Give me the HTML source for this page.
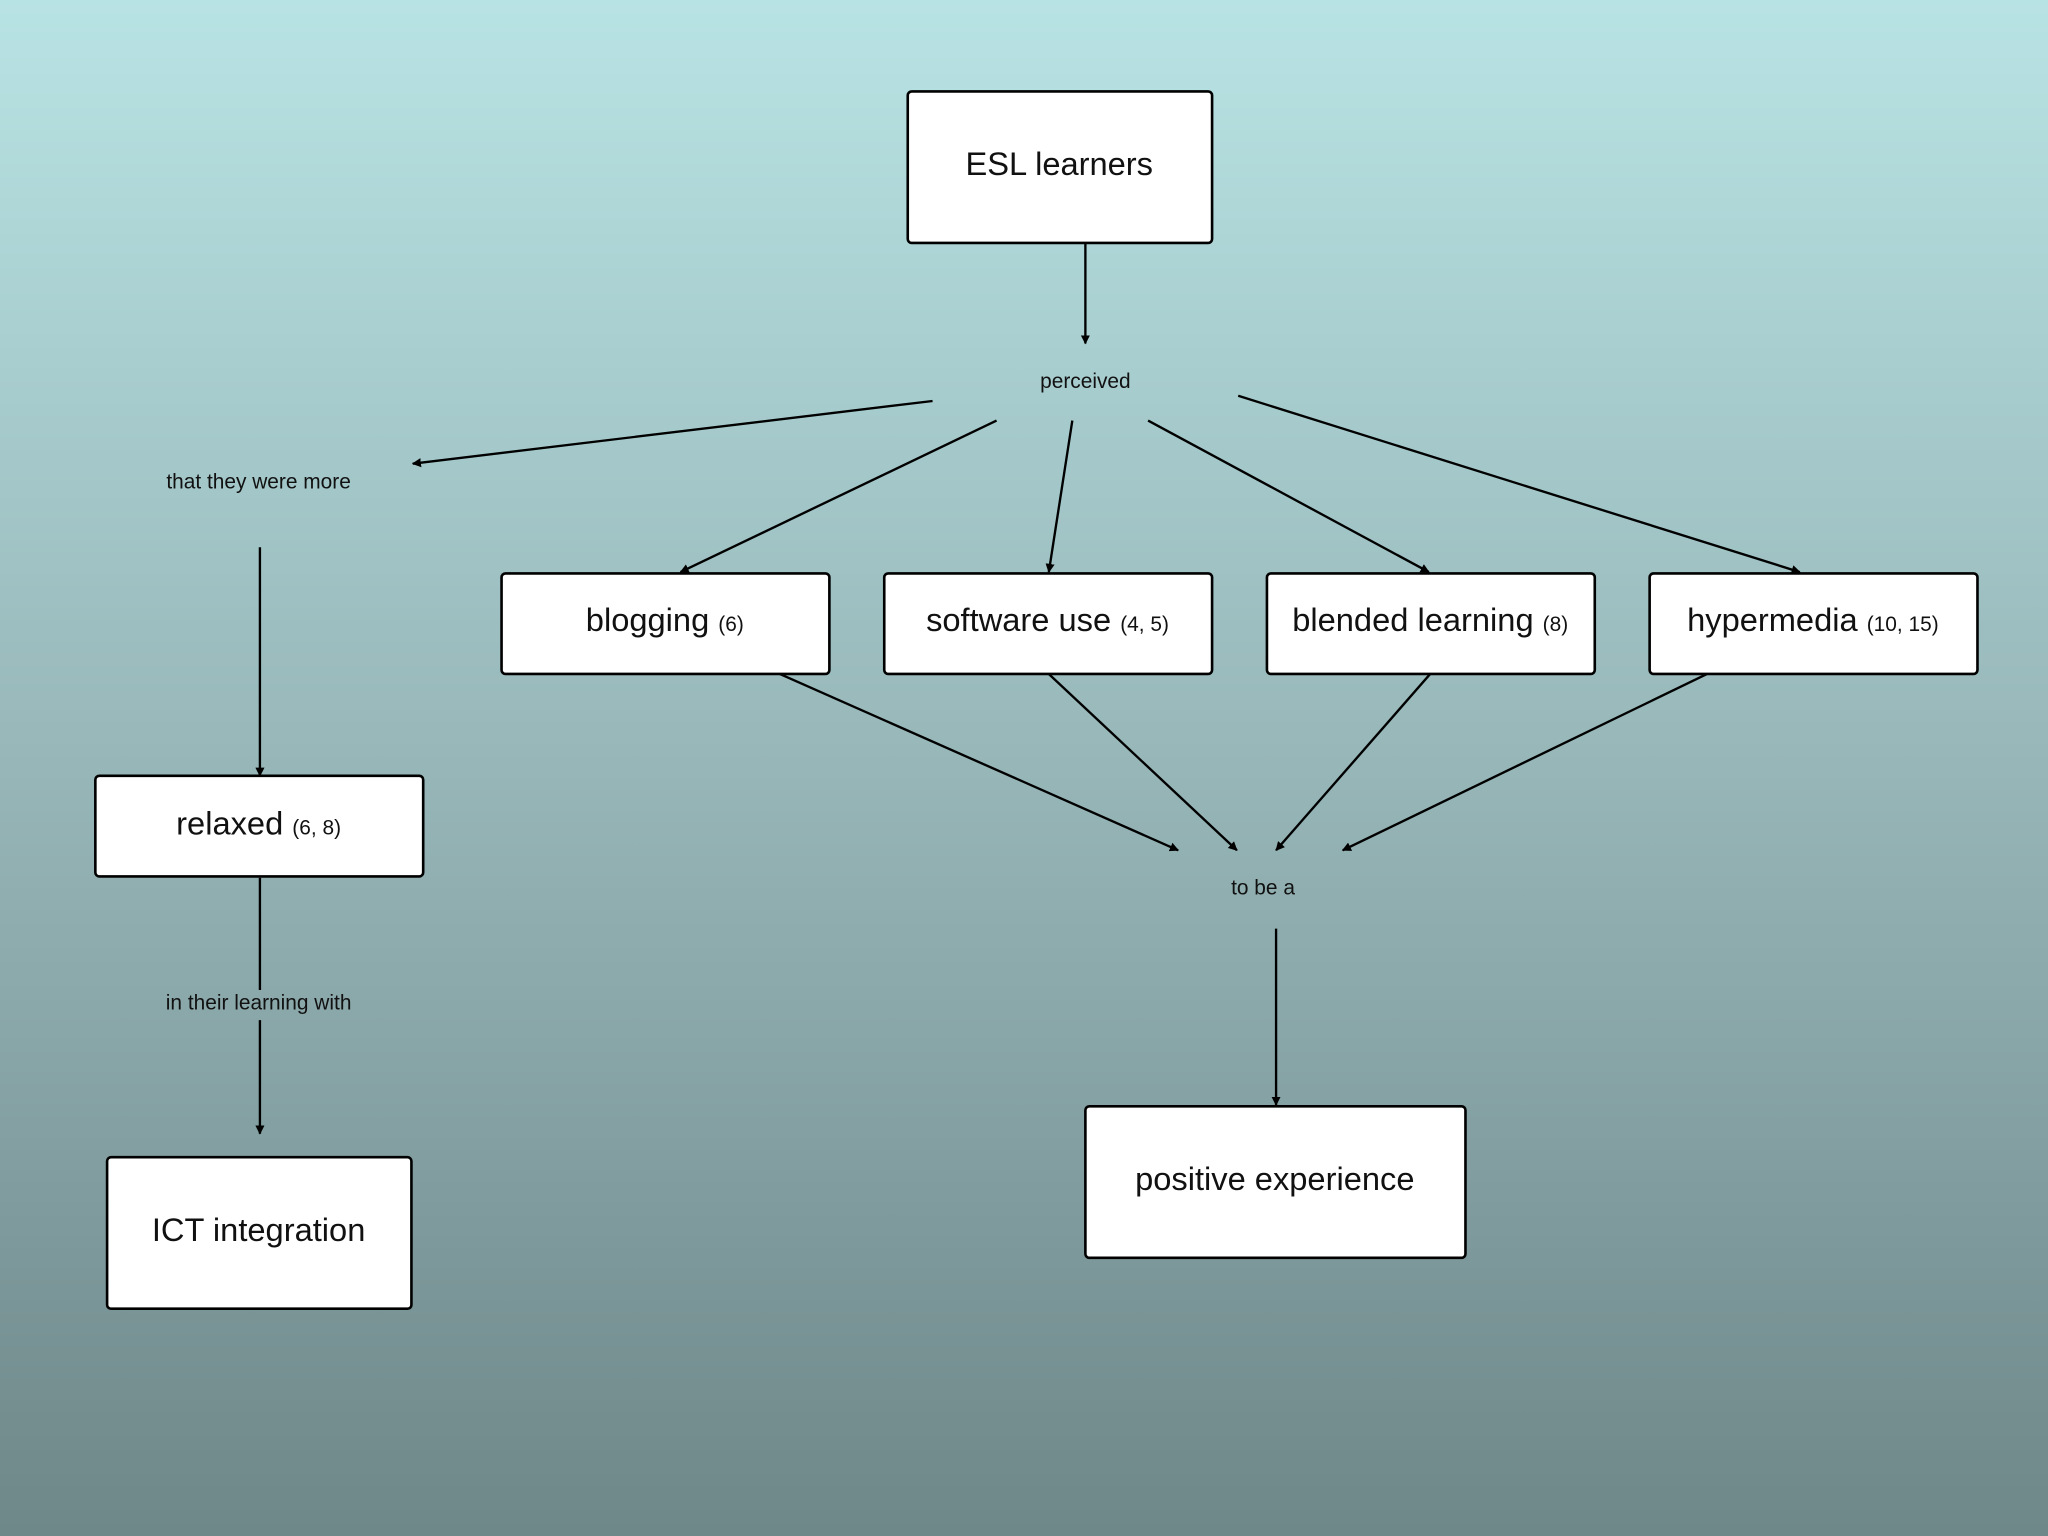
<!DOCTYPE html>
<html><head><meta charset="utf-8"><style>
html,body{margin:0;padding:0;width:2048px;height:1536px;overflow:hidden}
svg{display:block}
text{font-family:"Liberation Sans",sans-serif;fill:#111}
</style></head><body>
<svg width="2048" height="1536" viewBox="0 0 1568 1176" xmlns="http://www.w3.org/2000/svg">
<defs>
<linearGradient id="bg" x1="0" y1="0" x2="0" y2="1">
<stop offset="0" stop-color="#b8e3e4"/>
<stop offset="0.5" stop-color="#97b6b8"/>
<stop offset="1" stop-color="#6e8789"/>
</linearGradient>
<marker id="a" viewBox="0 0 10 10" refX="9" refY="5" markerWidth="7" markerHeight="7" markerUnits="userSpaceOnUse" orient="auto">
<path d="M0,0 L10,5 L0,10 z" fill="#000"/>
</marker>
<style>.l{stroke:#000;stroke-width:1.8;fill:none;marker-end:url(#a)}
.l2{stroke:#000;stroke-width:1.8;fill:none}
.b{fill:#fff;stroke:#000;stroke-width:2}</style>
</defs>
<rect width="1568" height="1176" fill="url(#bg)"/>
<g>
<line class="l" x1="831" y1="186" x2="831" y2="263"/>
<line class="l" x1="714" y1="307" x2="316" y2="355"/>
<line class="l" x1="763" y1="322" x2="521" y2="438"/>
<line class="l" x1="821" y1="322" x2="803" y2="438"/>
<line class="l" x1="879" y1="322" x2="1094" y2="438"/>
<line class="l" x1="948" y1="303" x2="1378" y2="438"/>
<line class="l" x1="199" y1="419" x2="199" y2="594"/>
<line class="l2" x1="199" y1="672" x2="199" y2="758"/>
<line class="l" x1="199" y1="781" x2="199" y2="868"/>
<line class="l" x1="597" y1="516" x2="902" y2="651"/>
<line class="l" x1="803" y1="516" x2="947" y2="651"/>
<line class="l" x1="1095" y1="516" x2="977" y2="651"/>
<line class="l" x1="1307" y1="516" x2="1028" y2="651"/>
<line class="l" x1="977" y1="711" x2="977" y2="846"/>
</g>
<rect class="b" x="695" y="70" width="233" height="116" rx="3"/>
<rect class="b" x="384" y="439" width="251" height="77" rx="3"/>
<rect class="b" x="677" y="439" width="251" height="77" rx="3"/>
<rect class="b" x="970" y="439" width="251" height="77" rx="3"/>
<rect class="b" x="1263" y="439" width="251" height="77" rx="3"/>
<rect class="b" x="73" y="594" width="251" height="77" rx="3"/>
<rect class="b" x="82" y="886" width="233" height="116" rx="3"/>
<rect class="b" x="831" y="847" width="291" height="116" rx="3"/>
<g text-anchor="middle">
<text x="811" y="134" font-size="25">ESL learners</text>
<text x="509" y="483" font-size="25">blogging <tspan font-size="16">(6)</tspan></text>
<text x="802" y="483" font-size="25">software use <tspan font-size="16">(4, 5)</tspan></text>
<text x="1095" y="483" font-size="25">blended learning <tspan font-size="16">(8)</tspan></text>
<text x="1388" y="483" font-size="25">hypermedia <tspan font-size="16">(10, 15)</tspan></text>
<text x="198" y="639" font-size="25">relaxed <tspan font-size="16">(6, 8)</tspan></text>
<text x="198" y="950" font-size="25">ICT integration</text>
<text x="976" y="911" font-size="25">positive experience</text>
<text x="831" y="297" font-size="16">perceived</text>
<text x="198" y="374" font-size="16">that they were more</text>
<text x="967" y="685" font-size="16">to be a</text>
<text x="198" y="773" font-size="16">in their learning with</text>
</g>
</svg>
</body></html>
